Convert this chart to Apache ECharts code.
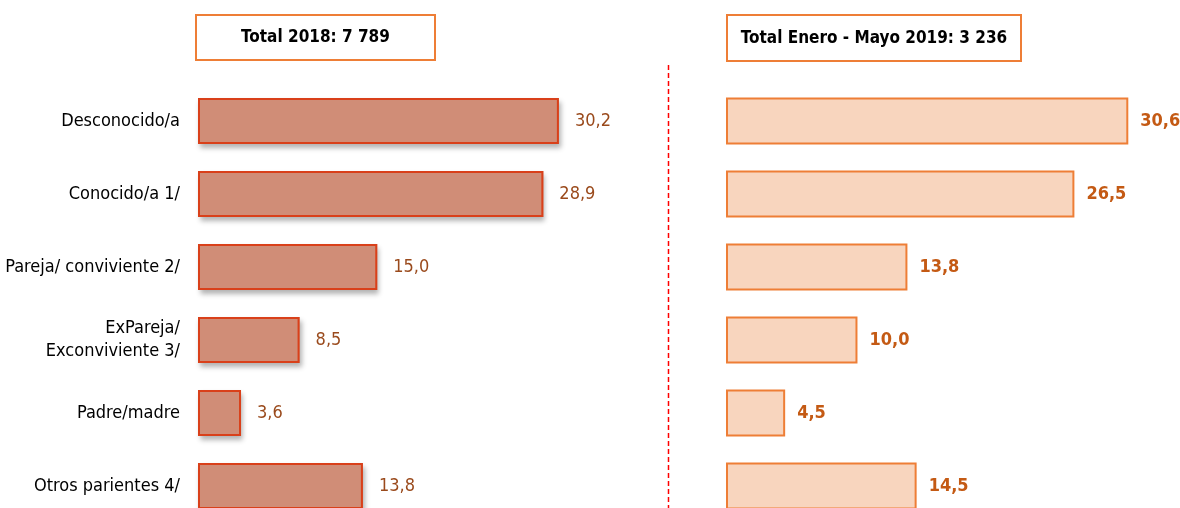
<!DOCTYPE html>
<html>
<head>
<meta charset="utf-8">
<script src="https://cdn.jsdelivr.net/npm/echarts@6/dist/echarts.min.js"></script>
<style>
  html, body { margin: 0; padding: 0; background: #fff; overflow: hidden; }
  #main { width: 1180px; height: 523px; }
</style>
</head>
<body>
<div id="main"></div>
<script>
// datos
var categorias = ['Desconocido/a', 'Conocido/a 1/', 'Pareja/ conviviente 2/', 'ExPareja/\nExconviviente 3/', 'Padre/madre', 'Otros parientes 4/'];
var valores2018 = [30.2, 28.9, 15.0, 8.5, 3.6, 13.8];
var valores2019 = [30.6, 26.5, 13.8, 10.0, 4.5, 14.5];
var titulo2018 = 'Total 2018: 7 789';
var titulo2019 = 'Total Enero - Mayo 2019: 3 236';

var fuente = '"Liberation Sans Narrow", "DejaVu Sans Condensed", "Liberation Sans", sans-serif';
// el lienzo es algo más alto que la ventana: la última fila queda cortada como en el original
var chart = echarts.init(document.getElementById('main'));

function coma(v) {
  return v.toFixed(1).replace('.', ',');
}

var option = {
  animation: false,
  textStyle: { fontFamily: fuente },
  grid: [
    { left: 198, top: 84.5, width: 478, height: 438 },   // 40 unidades
    { left: 726, top: 84.5, width: 447, height: 438 }    // 34 unidades
  ],
  xAxis: [
    { gridIndex: 0, type: 'value', min: 0, max: 40, show: false },
    { gridIndex: 1, type: 'value', min: 0, max: 34, show: false }
  ],
  yAxis: [
    {
      gridIndex: 0, type: 'category', data: categorias, inverse: true,
      axisLine: { show: false }, axisTick: { show: false },
      axisLabel: { color: '#000', fontSize: 18, fontFamily: fuente, margin: 18, lineHeight: 23 }
    },
    {
      gridIndex: 1, type: 'category', data: categorias, inverse: true,
      axisLine: { show: false }, axisTick: { show: false }, axisLabel: { show: false }
    }
  ],
  series: [
    // sombra de las barras 2018 (solo relleno, debajo)
    {
      type: 'bar', xAxisIndex: 0, yAxisIndex: 0, data: valores2018, barWidth: 46,
      silent: true, z: 1,
      itemStyle: {
        color: '#D08D77',
        shadowBlur: 5, shadowOffsetX: 2, shadowOffsetY: 4, shadowColor: 'rgba(0,0,0,0.3)'
      }
    },
    {
      type: 'bar', xAxisIndex: 0, yAxisIndex: 0, data: valores2018, barWidth: 46,
      barGap: '-100%', z: 2,
      itemStyle: { color: '#D08D77', borderColor: '#D9401A', borderWidth: 2 },
      label: {
        show: true, position: 'right', distance: 16, color: '#9A4A1C',
        fontSize: 18, fontFamily: fuente,
        formatter: function (p) { return coma(p.value); }
      }
    },
    {
      type: 'bar', xAxisIndex: 1, yAxisIndex: 1, data: valores2019, barWidth: 47,
      itemStyle: { color: '#F8D5BE', borderColor: '#EE7E36', borderWidth: 2 },
      label: {
        show: true, position: 'right', distance: 12, color: '#C45A14',
        fontSize: 18, fontWeight: 'bold', fontFamily: fuente,
        formatter: function (p) { return coma(p.value); }
      }
    }
  ],
  graphic: [
    {
      type: 'rect', shape: { x: 196, y: 15, width: 239, height: 45 },
      style: { fill: '#fff', stroke: '#EE7E36', lineWidth: 2 }
    },
    {
      type: 'text', x: 315.5, y: 38,
      style: { text: titulo2018, fill: '#000', font: 'bold 17px ' + fuente, align: 'center', verticalAlign: 'middle' }
    },
    {
      type: 'rect', shape: { x: 727, y: 15, width: 294, height: 46 },
      style: { fill: '#fff', stroke: '#EE7E36', lineWidth: 2 }
    },
    {
      type: 'text', x: 874, y: 38.5,
      style: { text: titulo2019, fill: '#000', font: 'bold 17px ' + fuente, align: 'center', verticalAlign: 'middle' }
    },
    {
      type: 'line', shape: { x1: 668.5, y1: 65, x2: 668.5, y2: 523 },
      style: { stroke: '#FF0000', lineWidth: 1.5, lineDash: [5, 3] }
    }
  ]
};

chart.setOption(option);
</script>
</body>
</html>
